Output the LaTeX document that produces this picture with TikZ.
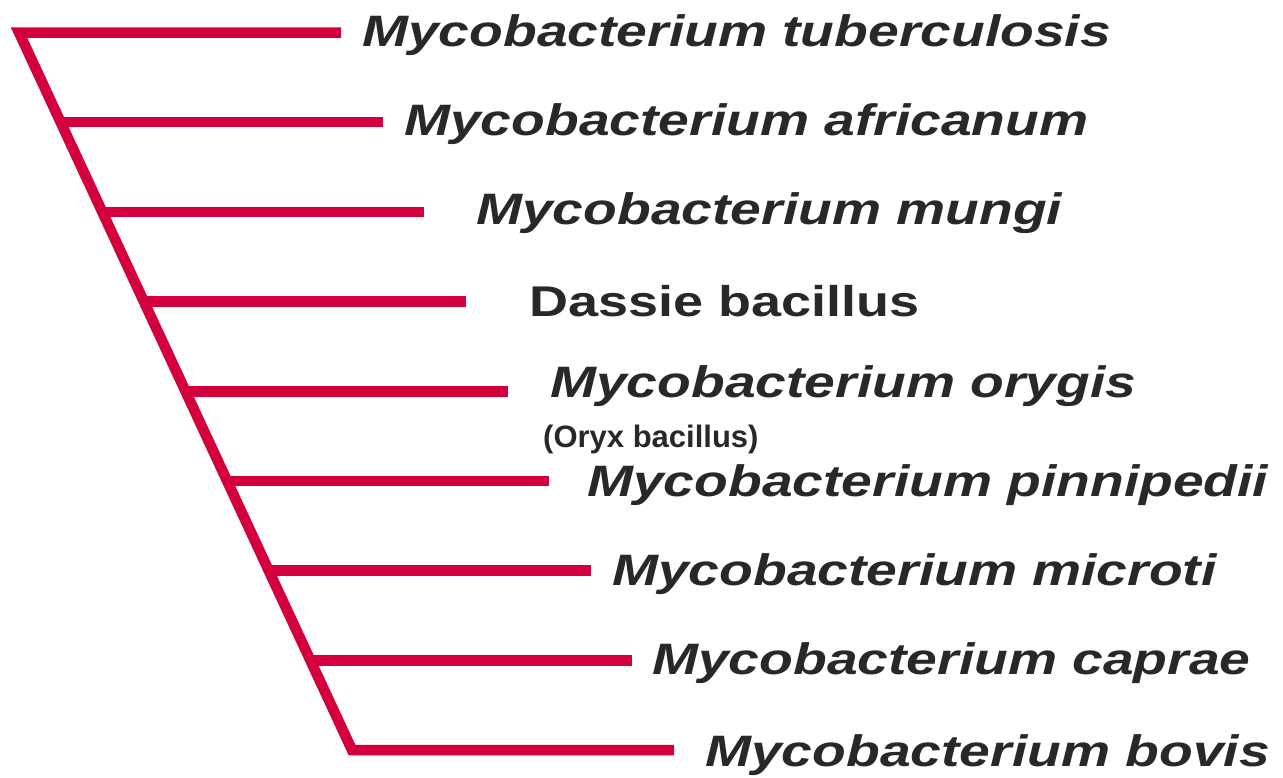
\documentclass[tikz,border=0pt]{standalone}
\usepackage{fontspec}
\newfontfamily\labfont[FakeStretch=1.255]{Liberation Sans}
\newfontfamily\subfont{Liberation Sans}
\definecolor{crim}{RGB}{212,0,62}
\definecolor{ink}{RGB}{40,40,40}
\tikzset{
  branch/.style={draw=crim, line width=10.5pt, line cap=butt, line join=miter},
  species/.style={anchor=base west, inner sep=0pt, text=ink, font=\labfont\bfseries\itshape\fontsize{44}{50}\selectfont},
  common/.style={anchor=base west, inner sep=0pt, text=ink, font=\labfont\bfseries\fontsize{43}{50}\selectfont},
  note/.style={anchor=base west, inner sep=0pt, text=ink, font=\subfont\bfseries\fontsize{31}{36}\selectfont}
}
\begin{document}
\begin{tikzpicture}[x=1pt,y=-1pt]
\useasboundingbox (0,0) rectangle (1283,777);
% branch points on the slanted stem and branch ends
\foreach \i in {0,...,8}{
  \pgfmathsetmacro{\yy}{32.5+89.7*\i}
  \pgfmathsetmacro{\xx}{19+(\yy-32.5)*0.4641}
  \coordinate (P\i) at (\xx,\yy);
  \coordinate (R\i) at (\xx+322,\yy);
}
% stem with first and last branch
\draw[branch] (R0) -- (P0) -- (P8) -- (R8);
\foreach \i in {1,...,7}{
  \draw[branch] (P\i) -- (R\i);
}
% labels
\node[species] (n0) at (362,46.5) {Mycobacterium tuberculosis};
\node[species] (n1) at (404,135) {Mycobacterium africanum};
\node[species] (n2) at (476,224) {Mycobacterium mungi};
\node[common]  (n3) at (529,316) {Dassie bacillus};
\node[species] (n4) at (550,397) {Mycobacterium orygis};
\node[note]    (n4b) at (543,447) {(Oryx bacillus)};
\node[species] (n5) at (587,496) {Mycobacterium pinnipedii};
\node[species] (n6) at (612,585) {Mycobacterium microti};
\node[species] (n7) at (652,674) {Mycobacterium caprae};
\node[species] (n8) at (705,766) {Mycobacterium bovis};
\end{tikzpicture}
\end{document}
